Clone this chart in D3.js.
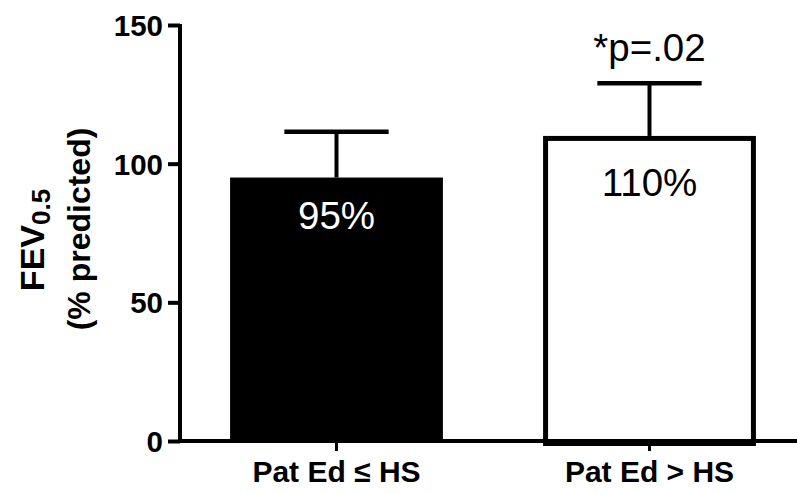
<!DOCTYPE html>
<html><head><meta charset="utf-8">
<script src="https://cdn.jsdelivr.net/npm/d3@7"></script>
<style>html,body{margin:0;padding:0;background:#fff;}svg{display:block;font-family:"Liberation Sans",Arial,sans-serif;}</style>
</head><body>
<script>
const categories = ["Pat Ed \u2264 HS", "Pat Ed > HS"];
const means = [95, 110];
const errUpper = [16.5, 19];
const barLabels = ["95%", "110%"];
const annotations = ["", "*p=.02"];
const yTicks = [0, 50, 100, 150];
const fills = ["#000", "#fff"];

const W = 797, H = 494;
const svg = d3.select("body").append("svg").attr("width", W).attr("height", H);

const y = d3.scaleLinear().domain([0, 150]).range([441, 25]);
const x = d3.scaleBand().domain(categories).range([180, 806]).paddingInner(0.32).paddingOuter(0.16);

// bars
const g = svg.append("g");
categories.forEach((c, i) => {
  const bx = x(c), bw = x.bandwidth(), cx = bx + bw / 2;
  const top = y(means[i]);
  const eTop = y(means[i] + errUpper[i]);
  g.append("line").attr("x1", cx).attr("x2", cx).attr("y1", top).attr("y2", eTop)
    .attr("stroke", "#000").attr("stroke-width", 4);
  g.append("line").attr("x1", cx - bw * 0.245).attr("x2", cx + bw * 0.245).attr("y1", eTop).attr("y2", eTop)
    .attr("stroke", "#000").attr("stroke-width", 4.5);
  const sw = i === 0 ? 0 : 5;
  g.append("rect").attr("x", bx + sw / 2).attr("y", top + sw / 2)
    .attr("width", bw - sw).attr("height", y(0) - top)
    .attr("fill", fills[i]).attr("stroke", i === 0 ? "none" : "#000").attr("stroke-width", sw);
  g.append("text").attr("x", cx).attr("y", top + (i === 0 ? 51 : 60))
    .attr("text-anchor", "middle").attr("font-size", 38.5)
    .attr("fill", i === 0 ? "#fff" : "#000").text(barLabels[i]);
  if (annotations[i]) {
    g.append("text").attr("x", cx).attr("y", eTop - 22)
      .attr("text-anchor", "middle").attr("font-size", 38.5).text(annotations[i]);
  }
});

// y axis
const yAxis = svg.append("g").attr("transform", "translate(180,0)")
  .call(d3.axisLeft(y).tickValues(yTicks).tickSize(12).tickPadding(5).tickSizeOuter(0));
yAxis.select(".domain").attr("stroke-width", 4).attr("d", `M0,${y(150)-1}V${y(0)}`);
yAxis.selectAll(".tick line").attr("stroke-width", 4);
yAxis.selectAll(".tick text").attr("font-size", 29.5).attr("font-weight", "bold")
  .attr("font-family", '"Liberation Sans",Arial,sans-serif').attr("fill", "#000").attr("dy", "0.36em");

// x axis
const xAxis = svg.append("g").attr("transform", `translate(0,${y(0)})`)
  .call(d3.axisBottom(x).tickSize(10).tickPadding(10).tickSizeOuter(0));
xAxis.select(".domain").attr("stroke-width", 4).attr("d", `M178,0H${W}`);
xAxis.selectAll(".tick line").attr("stroke-width", 3);
xAxis.selectAll(".tick text").attr("font-size", 30).attr("font-weight", "bold")
  .attr("font-family", '"Liberation Sans",Arial,sans-serif').attr("fill", "#000");

// y title
const t = svg.append("text").attr("transform", "translate(44,240) rotate(-90)")
  .attr("text-anchor", "middle").attr("font-size", 34).attr("font-weight", "bold");
t.append("tspan").text("FEV");
t.append("tspan").attr("font-size", 26).attr("dy", 6).text("0.5");
svg.append("text").attr("transform", "translate(90,229) rotate(-90)")
  .attr("text-anchor", "middle").attr("font-size", 32).attr("font-weight", "bold")
  .text("(% predicted)");
</script>
</body></html>
